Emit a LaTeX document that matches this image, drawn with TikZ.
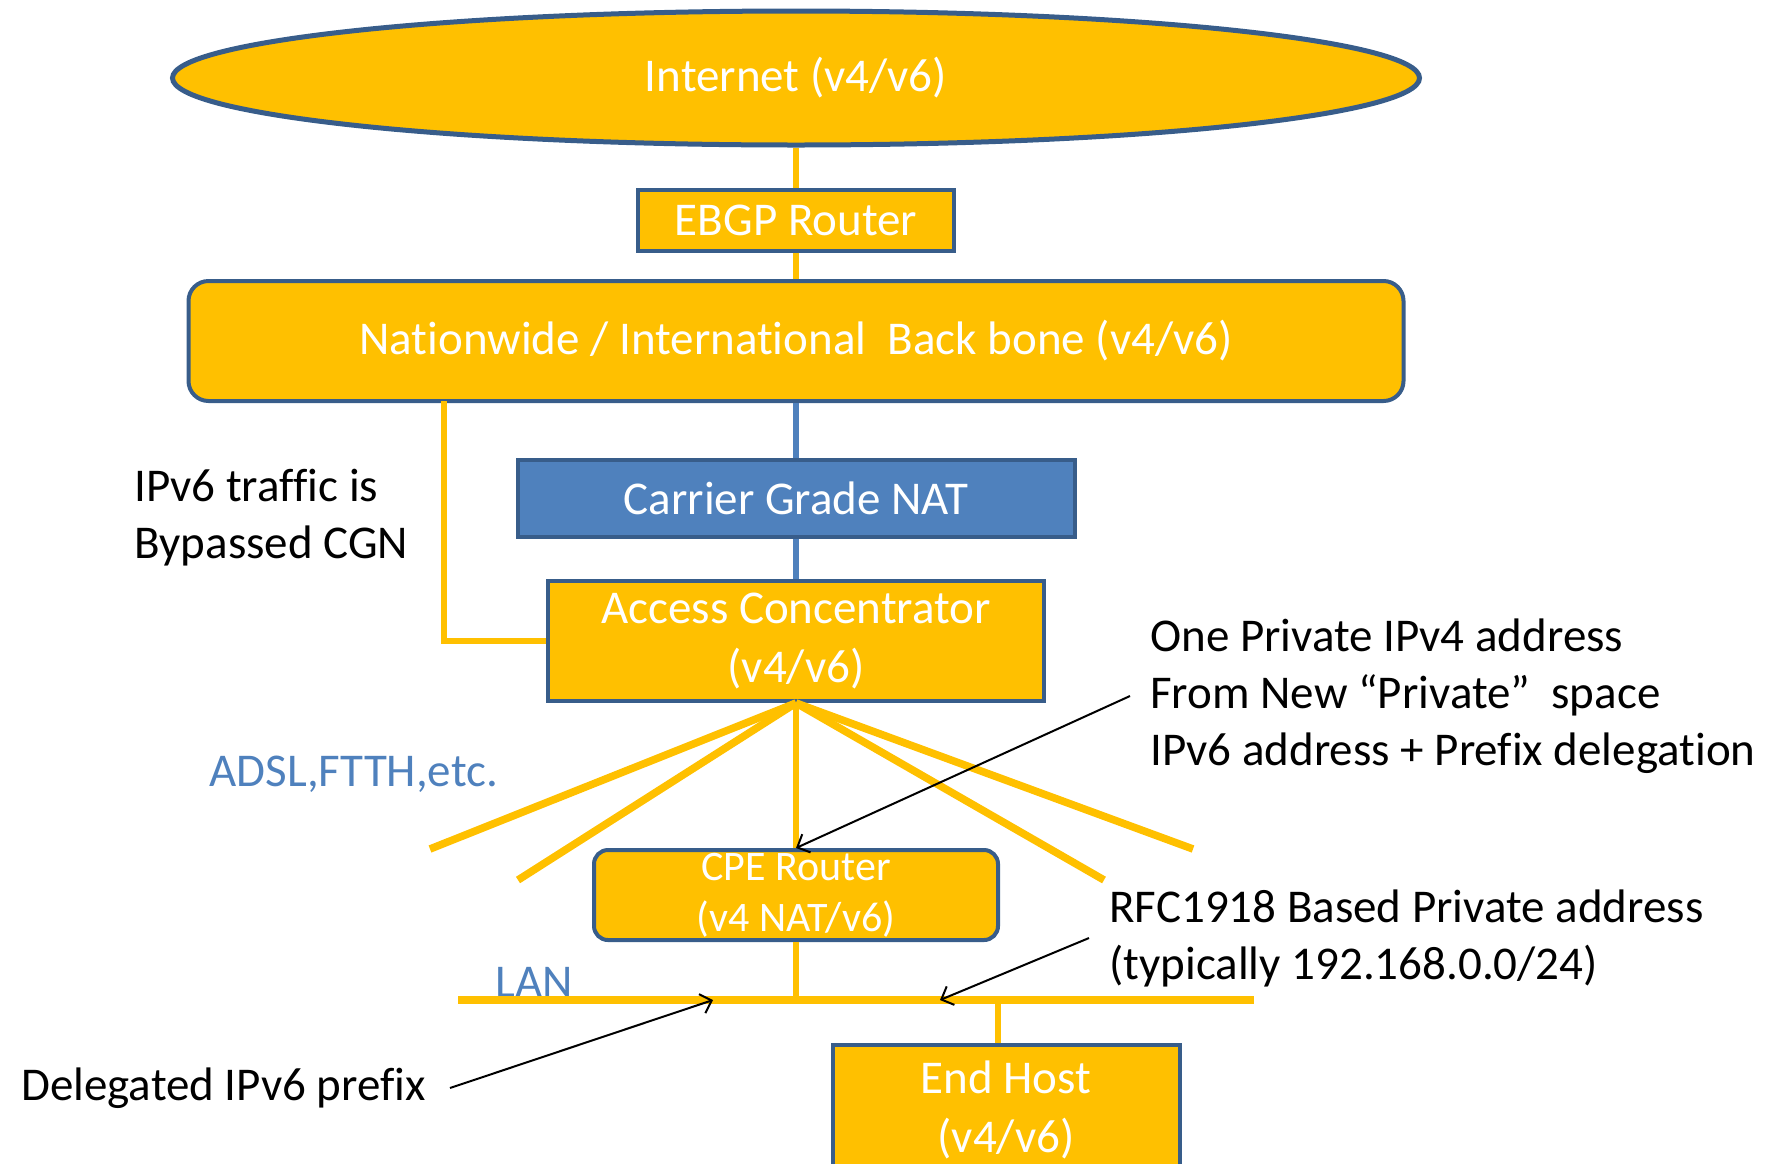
\documentclass[tikz,border=0pt]{standalone}
\usepackage{fontspec}
\setmainfont{Carlito}[Ligatures=NoCommon]
\usetikzlibrary{shapes.geometric,arrows.meta}
\definecolor{gold}{HTML}{FFC000}
\definecolor{edgeblue}{HTML}{385D8A}
\definecolor{cgnblue}{HTML}{4F81BD}
\begin{document}
\begin{tikzpicture}[x=0.5pt,y=-0.5pt,
  box/.style={draw=edgeblue,line width=2pt,fill=gold,text=white,align=center,inner sep=0pt,font=\fontsize{23.5}{29.5}\selectfont},
  note/.style={inner sep=0pt,align=left,font=\fontsize{23.5}{28.5}\selectfont},
  link/.style={gold,line width=3pt},
  fan/.style={gold,line width=3.8pt},
  cgnlink/.style={cgnblue,line width=3pt},
  pointer/.style={-{Straight Barb[length=5pt,width=10pt]},line width=1pt}]
  \useasboundingbox (0,0) rectangle (1775,1163);
  \node[box,ellipse,minimum width=623.5pt,minimum height=67pt,line width=2.5pt] (inet) at (796,78) {Internet (v4/v6)};
  \node[box,minimum width=158pt,minimum height=30.5pt] (ebgp) at (796,220) {EBGP Router};
  \node[box,rounded corners=10pt,minimum width=607.5pt,minimum height=60pt] (backbone) at (796,341) {Nationwide / International\ \ Back bone (v4/v6)};
  \node[box,fill=cgnblue,minimum width=278.5pt,minimum height=38.5pt] (cgn) at (796,498) {Carrier Grade NAT};
  \node[box,minimum width=248pt,minimum height=60pt] (acc) at (796,641) {Access Concentrator\\(v4/v6)};
  \node[box,rounded corners=7pt,minimum width=202pt,minimum height=45pt,font=\fontsize{21}{25.5}\selectfont] (cpe) at (796,895) {CPE Router\\(v4 NAT/v6)};
  \node[box,minimum width=173.5pt,minimum height=65pt] (host) at (1006,1110) {End Host\\(v4/v6)};

  \node[note,anchor=west] (bypasstxt) at (134,518) {IPv6 traffic is\\Bypassed CGN};
  \node[note,text=cgnblue,anchor=west] (adsl) at (209,774) {ADSL,FTTH,etc.};
  \node[note,text=cgnblue,anchor=west] (lan) at (495,982) {LAN};
  \node[note,anchor=west] (priv) at (1150,696) {One Private IPv4 address\\From New “Private”\ \ space\\IPv6 address + Prefix delegation};
  \node[note,anchor=west] (rfc) at (1109,938) {RFC1918 Based Private address\\(typically 192.168.0.0/24)};
  \node[note,anchor=east] (deleg) at (426,1088) {Delegated IPv6 prefix};

  \coordinate (bypass) at (444,401);
  \coordinate (lanL) at (458,1000);
  \coordinate (lanR) at (1254,1000);
  \coordinate (fanA) at (430,849);
  \coordinate (fanB) at (518,880);
  \coordinate (fanC) at (1104,880);
  \coordinate (fanD) at (1193,849);
  \coordinate (rfctip) at (940,1000);
  \coordinate (delegtip) at (713,1000);

  \draw[link] (inet) -- (ebgp);
  \draw[link] (ebgp) -- (backbone);
  \draw[cgnlink] (backbone) -- (cgn);
  \draw[cgnlink] (cgn) -- (acc);
  \draw[link] (bypass) |- (acc.west);
  \foreach \f in {fanA,fanB,fanC,fanD}
    \draw[fan] (acc.south) -- (\f);
  \draw[link] (acc.south) -- (cpe.north);
  \draw[fan] (lanL) -- (lanR);
  \draw[link] (cpe.south) -- (cpe.south |- lanL);
  \draw[link] ([xshift=-4pt]host.north) -- ([xshift=-4pt]host.north |- lanL);
  \draw[pointer] ([xshift=-10pt]priv.west) -- (cpe.north);
  \draw[pointer] ([xshift=-10pt]rfc.west) -- (rfctip);
  \draw[pointer] ([xshift=12pt]deleg.east) -- (delegtip);
\end{tikzpicture}
\end{document}
